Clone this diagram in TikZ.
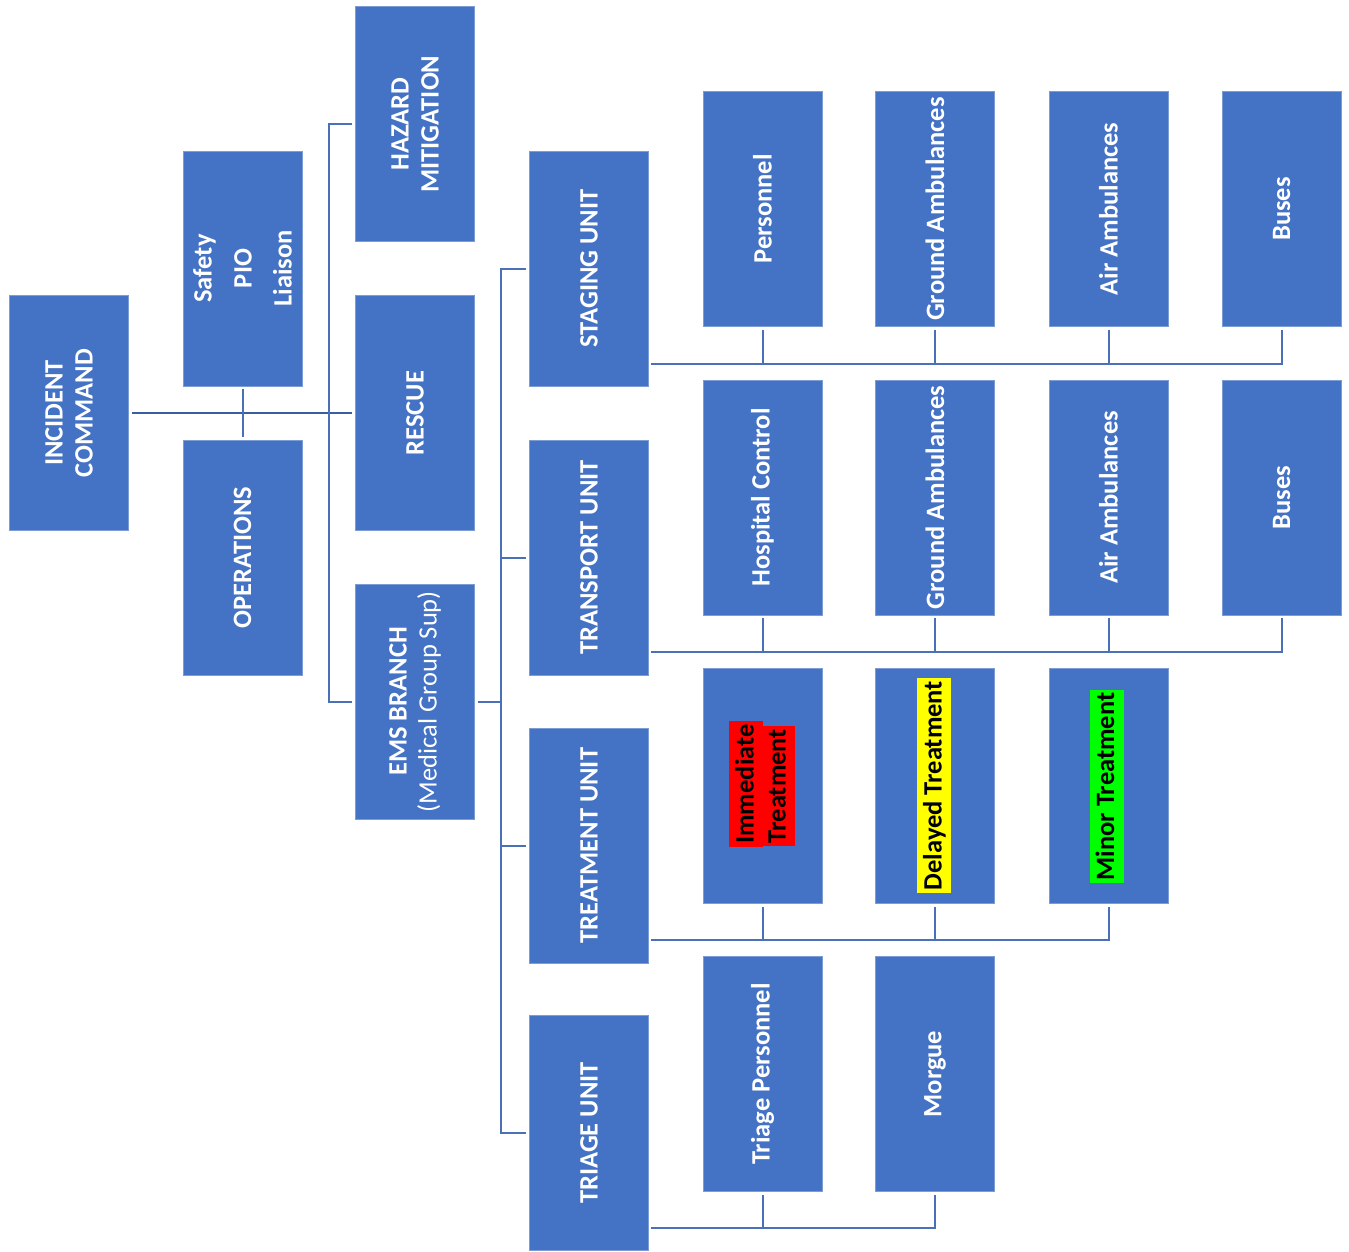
\documentclass[tikz,border=0pt]{standalone}
\usepackage{fontspec}
\setmainfont{Carlito}
\definecolor{boxblue}{HTML}{4472C4}
\definecolor{linkblue}{HTML}{4A70B8}
\definecolor{linkdark}{HTML}{3B5EA3}
\definecolor{hlred}{HTML}{FF0000}
\definecolor{hlyellow}{HTML}{FFFF00}
\definecolor{hlgreen}{HTML}{00FF00}
\begin{document}
\begin{tikzpicture}[x=1pt,y=-1pt,
  box/.style={fill=boxblue, draw=boxblue!70!white, line width=0.6pt, rotate=90,
    minimum width=235pt, minimum height=119pt, inner sep=0pt, text=white,
    font=\fontsize{26.5}{30}\selectfont\bfseries, align=center},
  link/.style={draw=linkblue, line width=2pt},
  hl/.style={rotate=90, inner xsep=3pt, inner ysep=0.5pt, text height=24pt,
    text depth=9pt, font=\fontsize{26.5}{30}\selectfont\bfseries, text=black}]
\useasboundingbox (0,0) rectangle (1349,1251);
% level 1-2
\node[box] (ic)  at (69,413)    {INCIDENT\\COMMAND};
\node[box] (spl) at (242.5,268.5) {Safety\\[10pt]PIO\\[10pt]Liaison};
\node[box] (ops) at (242.5,557.5) {OPERATIONS};
\node[box] (haz) at (415,124)   {HAZARD\\MITIGATION};
\node[box] (res) at (415,413)   {RESCUE};
\node[box] (ems) at (415,701.5) {EMS BRANCH\\{\mdseries(Medical Group Sup)}};
% units
\node[box] (stg) at (589,268.5) {STAGING UNIT};
\node[box] (trn) at (589,557.5) {TRANSPORT UNIT};
\node[box] (trt) at (589,845.5) {TREATMENT UNIT};
\node[box] (tri) at (589,1133)  {TRIAGE UNIT};
% row 1
\node[box] (p1) at (762.5,209)  {Personnel};
\node[box] (g1) at (935,209)    {Ground Ambulances};
\node[box] (a1) at (1108.5,209) {Air Ambulances};
\node[box] (b1) at (1281.5,209) {Buses};
% row 2
\node[box] (h2) at (762.5,497.5)  {Hospital Control};
\node[box] (g2) at (935,497.5)    {Ground Ambulances};
\node[box] (a2) at (1108.5,497.5) {Air Ambulances};
\node[box] (b2) at (1281.5,497.5) {Buses};
% row 3
\node[box] (im3) at (762.5,786)  {};
\node[box] (dt3) at (935,786)    {};
\node[box] (mt3) at (1108.5,786) {};
\node[hl, fill=hlred]    (hlim)  at (746,784)    {Immediate};
\node[hl, fill=hlred]    (hltr)  at (778,786)    {Treatment};
\node[hl, fill=hlyellow] (hldel) at (934,785.5)  {Delayed Treatment};
\node[hl, fill=hlgreen]  (hlmin) at (1106.5,786.5) {Minor Treatment};
% row 4
\node[box] (tp4) at (762.5,1074) {Triage Personnel};
\node[box] (mg4) at (935,1074)   {Morgue};
% connectors, left part
\draw[link, draw=linkdark, line width=2.5pt] ([xshift=3pt]ic.south) -- ([xshift=-3pt]res.north);
\draw[link] ([yshift=-3pt]spl.west) -- ([yshift=3pt]ops.east);
\coordinate (busA) at (329,0);
\draw[link] ([xshift=-3pt]haz.north) -- (haz.north -| busA) -- (ems.north -| busA) -- ([xshift=-3pt]ems.north);
\coordinate (busB) at (501,0);
\draw[link] ([xshift=3pt]ems.south) -- (ems.south -| busB);
\draw[link] ([xshift=-3pt]stg.north) -- (stg.north -| busB) -- (tri.north -| busB) -- ([xshift=-3pt]tri.north);
\draw[link] ([xshift=-3pt]trn.north) -- (trn.north -| busB);
\draw[link] ([xshift=-3pt]trt.north) -- (trt.north -| busB);
% row buses
\coordinate (r1) at (651,364);
\coordinate (r2) at (651,652);
\coordinate (r3) at (651,940);
\coordinate (r4) at (651,1228);
\draw[link] (r1) -- (r1 -| b1.west) -- ([yshift=-3pt]b1.west);
\foreach \n in {p1,g1,a1} \draw[link] ([yshift=-3pt]\n.west) -- (\n.west |- r1);
\draw[link] (r2) -- (r2 -| b2.west) -- ([yshift=-3pt]b2.west);
\foreach \n in {h2,g2,a2} \draw[link] ([yshift=-3pt]\n.west) -- (\n.west |- r2);
\draw[link] (r3) -- (r3 -| mt3.west) -- ([yshift=-3pt]mt3.west);
\foreach \n in {im3,dt3} \draw[link] ([yshift=-3pt]\n.west) -- (\n.west |- r3);
\draw[link] (r4) -- (r4 -| mg4.west) -- ([yshift=-3pt]mg4.west);
\draw[link] ([yshift=-3pt]tp4.west) -- (tp4.west |- r4);
\end{tikzpicture}
\end{document}
